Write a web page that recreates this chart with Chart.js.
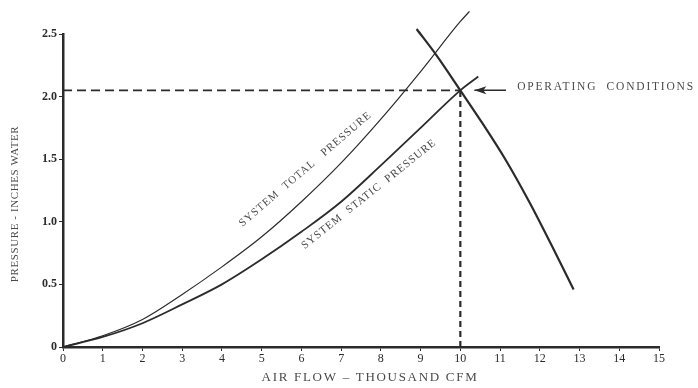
<!DOCTYPE html>
<html>
<head>
<meta charset="utf-8">
<script src="https://cdn.jsdelivr.net/npm/chart.js@4.4.1/dist/chart.umd.min.js"></script>
<style>
  html, body { margin: 0; padding: 0; background: #fff; }
  #wrap { width: 698px; height: 388px; }
</style>
</head>
<body>
<div id="wrap"><canvas id="fanChart" width="698" height="388"></canvas></div>
<script>
// Fan / system curves
const totalX = [0, 1, 2, 3, 4, 5, 6, 7, 8, 9, 10, 10.23];
const totalY = [0, 0.09, 0.22, 0.42, 0.64, 0.88, 1.16, 1.47, 1.82, 2.2, 2.6, 2.68];

const staticX = [0, 1, 2, 3, 4, 5, 6, 7, 8, 9, 10, 10.45];
const staticY = [0, 0.08, 0.19, 0.34, 0.5, 0.7, 0.92, 1.16, 1.45, 1.75, 2.05, 2.16];

const fanX = [8.9, 9.4, 10, 10.55, 11.15, 11.75, 12.3, 12.85];
const fanY = [2.54, 2.33, 2.05, 1.79, 1.49, 1.15, 0.81, 0.46];

const operatingPoint = { x: 10, y: 2.05 };

const xTicks = [0, 1, 2, 3, 4, 5, 6, 7, 8, 9, 10, 11, 12, 13, 14, 15];
const yTicks = [0, 0.5, 1, 1.5, 2, 2.5];
const yTickLabels = ["0", "0.5", "1.0", "1.5", "2.0", "2.5"];

const ink = "#2b2b2b";
const textInk = "#4a4a4a";
const serif = "'Liberation Serif', 'DejaVu Serif', serif";

function toPoints(xs, ys) {
  return xs.map((x, i) => ({ x: x, y: ys[i] }));
}

function spacedText(ctx, text, x, y, spacing) {
  ctx.letterSpacing = spacing + "px";
  ctx.fillText(text, x, y);
  ctx.letterSpacing = "0px";
}

// axis titles, rotated curve labels + operating conditions arrow
const notes = {
  id: "notes",
  afterDatasetsDraw(chart) {
    const ctx = chart.ctx;
    const xs = chart.scales.x;
    const ys = chart.scales.y;
    ctx.save();
    ctx.fillStyle = textInk;
    ctx.textAlign = "center";
    ctx.textBaseline = "middle";

    // axis titles
    ctx.font = "13px " + serif;
    spacedText(ctx, "AIR FLOW – THOUSAND CFM", 370, 378, 1.7);
    ctx.save();
    ctx.translate(15, 204);
    ctx.rotate(-Math.PI / 2);
    ctx.font = "11px " + serif;
    spacedText(ctx, "PRESSURE - INCHES WATER", 0, 0, 0.6);
    ctx.restore();

    ctx.font = "11px " + serif;
    const labels = [
      { text: "SYSTEM  TOTAL   PRESSURE", x: 6.1, y: 1.42, angle: -40.6 },
      { text: "SYSTEM  STATIC  PRESSURE", x: 7.7, y: 1.22, angle: -38.6 },
    ];
    labels.forEach((l) => {
      ctx.save();
      ctx.translate(xs.getPixelForValue(l.x), ys.getPixelForValue(l.y));
      ctx.rotate((l.angle * Math.PI) / 180);
      spacedText(ctx, l.text, 0, 0, 1.0);
      ctx.restore();
    });

    // arrow pointing at the operating point
    const py = ys.getPixelForValue(operatingPoint.y);
    const tip = xs.getPixelForValue(operatingPoint.x) + 14;
    const tail = xs.getPixelForValue(11.15);
    ctx.strokeStyle = ink;
    ctx.lineWidth = 1.5;
    ctx.beginPath();
    ctx.moveTo(tail, py);
    ctx.lineTo(tip, py);
    ctx.stroke();
    ctx.fillStyle = ink;
    ctx.beginPath();
    ctx.moveTo(tip, py);
    ctx.lineTo(tip + 12, py - 4);
    ctx.lineTo(tip + 9, py);
    ctx.lineTo(tip + 12, py + 4);
    ctx.closePath();
    ctx.fill();

    ctx.fillStyle = textInk;
    ctx.font = "11.5px " + serif;
    ctx.textAlign = "left";
    spacedText(ctx, "OPERATING  CONDITIONS", xs.getPixelForValue(11.43), py - 3, 1.8);
    ctx.restore();
  },
};

const ctx = document.getElementById("fanChart").getContext("2d");
new Chart(ctx, {
  type: "scatter",
  data: {
    datasets: [
      {
        label: "System Total Pressure",
        data: toPoints(totalX, totalY),
        showLine: true,
        borderColor: ink,
        borderWidth: 1.2,
        pointRadius: 0,
        cubicInterpolationMode: "monotone",
        clip: false,
      },
      {
        label: "System Static Pressure",
        data: toPoints(staticX, staticY),
        showLine: true,
        borderColor: ink,
        borderWidth: 1.8,
        pointRadius: 0,
        cubicInterpolationMode: "monotone",
        clip: false,
      },
      {
        label: "Fan Curve",
        data: toPoints(fanX, fanY),
        showLine: true,
        borderColor: ink,
        borderWidth: 2.2,
        pointRadius: 0,
        cubicInterpolationMode: "monotone",
        clip: false,
      },
      {
        label: "Operating Pressure",
        data: [
          { x: 0, y: operatingPoint.y },
          { x: operatingPoint.x, y: operatingPoint.y },
        ],
        showLine: true,
        borderColor: ink,
        borderWidth: 1.8,
        borderDash: [9, 5],
        pointRadius: 0,
      },
      {
        label: "Operating Flow",
        data: [
          { x: operatingPoint.x, y: 0 },
          { x: operatingPoint.x, y: operatingPoint.y },
        ],
        showLine: true,
        borderColor: ink,
        borderWidth: 2.2,
        borderDash: [6, 4],
        pointRadius: 0,
      },
    ],
  },
  options: {
    responsive: false,
    animation: false,
    layout: { padding: { top: 34, right: 39, left: 0, bottom: 0 } },
    plugins: {
      legend: { display: false },
      tooltip: { enabled: false },
    },
    scales: {
      x: {
        type: "linear",
        min: 0,
        max: 15,
        afterBuildTicks: (scale) => {
          scale.ticks = xTicks.map((v) => ({ value: v }));
        },
        afterFit: (scale) => {
          scale.height = 41;
        },
        border: { display: true, color: ink, width: 2.5 },
        grid: { drawOnChartArea: false, color: ink, tickLength: 4 },
        ticks: {
          color: ink,
          padding: 1,
          font: { family: serif, size: 12 },
        },
        title: { display: false },
      },
      y: {
        type: "linear",
        min: 0,
        max: 2.5,
        afterBuildTicks: (scale) => {
          scale.ticks = yTicks.map((v) => ({ value: v }));
        },
        afterFit: (scale) => {
          scale.width = 63;
        },
        border: { display: true, color: ink, width: 2.5 },
        grid: { drawOnChartArea: false, color: ink, tickLength: 4 },
        ticks: {
          color: ink,
          padding: 2,
          font: { family: serif, size: 12, weight: "bold" },
          callback: (value) => yTickLabels[yTicks.indexOf(value)],
        },
        title: { display: false },
      },
    },
  },
  plugins: [notes],
});
</script>
</body>
</html>
